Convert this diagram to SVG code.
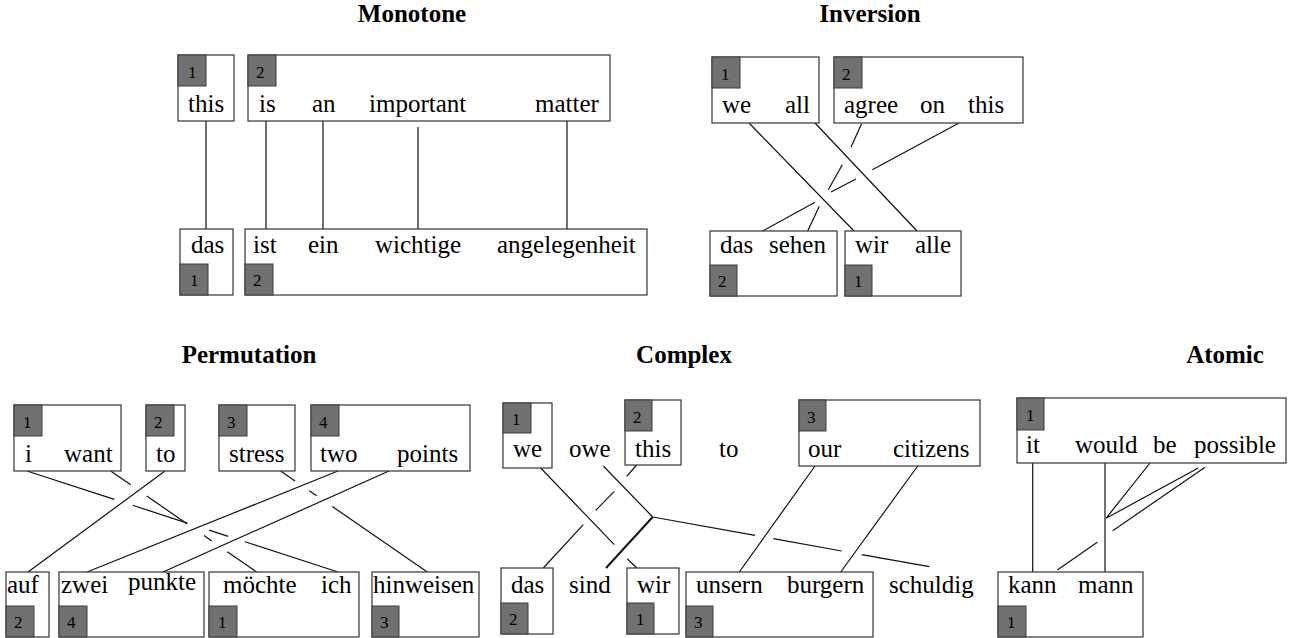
<svg xmlns="http://www.w3.org/2000/svg" width="1294" height="638" viewBox="0 0 1294 638">
<style>
.bg{fill:#fff}
.box{fill:#fff;stroke:#333;stroke-width:1.2}
.badge{fill:#717171;stroke:#3c3c3c;stroke-width:1}
text{font-family:"Liberation Serif","Times New Roman",serif;fill:#000}
.w{font-size:25px}
.n{font-size:17px}
.t{font-size:25px;font-weight:bold;text-anchor:middle}
.ln{stroke:#111;stroke-width:1.2;fill:none}
.thick{stroke-width:2}
</style>
<rect class="bg" x="0" y="0" width="1294" height="638"/>

<g id="titles">
<text class="t" x="412" y="22">Monotone</text>
<text class="t" x="870" y="22">Inversion</text>
<text class="t" x="249" y="363">Permutation</text>
<text class="t" x="684" y="363">Complex</text>
<text class="t" x="1225" y="363">Atomic</text>
</g>

<g id="connectors">
<!-- Monotone -->
<path class="ln" d="M206,121 V229 M266,121 V229 M323,121 V229 M418,127 V229 M567,121 V229"/>
<!-- Inversion -->
<path class="ln" d="M749,123 L854,231 M815,123 L917,231"/>
<path class="ln" d="M861.5,124 L851,147 M842.3,164.7 L828.3,189.7 M819.3,206.3 L807.7,231"/>
<path class="ln" d="M959,123 L872.3,169.7 M856,179 L831,192 M815,202.3 L761.7,231.5"/>
<!-- Permutation -->
<path class="ln" d="M165,471 L28,572"/>
<path class="ln" d="M338,471 L87,572"/>
<path class="ln" d="M389,471 L163,572"/>
<path class="ln" d="M27,471 L114.3,499.4 M132.7,505.3 L187.3,523.1 M209,530.1 L228.3,536.4 M245,541.8 L338,572"/>
<path class="ln" d="M110.7,471 L130.7,484.8 M146.7,495.9 L187.3,524 M204,535.6 L211.7,540.9 M227.3,551.7 L256.7,572"/>
<path class="ln" d="M280.7,471 L295,480.9 M309.3,490.7 L316.7,495.8 M332.3,506.5 L427.3,572"/>
<!-- Complex -->
<path class="ln" d="M540.7,468 L614.3,544.7 M627.3,558.7 L636.7,568"/>
<path class="ln" d="M603.3,466 L652.7,517"/>
<path class="ln thick" d="M652.7,517 L606,568"/>
<path class="ln" d="M652.7,517 L755,535.4 M773.3,538.7 L841.7,551 M861.7,554.6 L929.3,566.7"/>
<path class="ln" d="M636.7,465 L626.7,476.3 M614.3,491.3 L595.7,510.3 M583.3,524.7 L543.3,568"/>
<path class="ln" d="M815,466 L739.3,572"/>
<path class="ln" d="M917.7,466 L840.7,572"/>
<!-- Atomic -->
<path class="ln" d="M1032.7,463 V572 M1105,463 V572"/>
<path class="ln" d="M1150,463 L1106,518.3 M1198.3,468 L1106,518.3"/>
<path class="ln" d="M1205,467.3 L1112.7,530.7 M1097.3,542.3 L1057.3,570"/>
</g>

<!-- Monotone nodes -->
<g id="mono-src-1"><rect class="box" x="178" y="55" width="56" height="66"/><rect class="badge" x="178" y="55" width="28" height="31"/><text class="n" x="188" y="78">1</text><text class="w" x="188" y="112">this</text></g>
<g id="mono-src-2"><rect class="box" x="248" y="55" width="362" height="66"/><rect class="badge" x="248" y="55" width="28" height="31"/><text class="n" x="256" y="78">2</text>
<text class="w" x="259" y="112">is</text><text class="w" x="312" y="112">an</text><text class="w" x="369" y="112">important</text><text class="w" x="535" y="112">matter</text></g>
<g id="mono-tgt-1"><rect class="box" x="180" y="229" width="53" height="66"/><rect class="badge" x="180" y="264" width="28" height="31"/><text class="n" x="190" y="286">1</text><text class="w" x="191" y="253">das</text></g>
<g id="mono-tgt-2"><rect class="box" x="245" y="229" width="402" height="66"/><rect class="badge" x="245" y="264" width="28" height="31"/><text class="n" x="253" y="286">2</text>
<text class="w" x="253" y="253">ist</text><text class="w" x="308" y="253">ein</text><text class="w" x="375" y="253">wichtige</text><text class="w" x="497" y="253">angelegenheit</text></g>

<!-- Inversion nodes -->
<g id="inv-src-1"><rect class="box" x="712" y="57" width="107" height="66"/><rect class="badge" x="712" y="57" width="28" height="31"/><text class="n" x="721" y="80">1</text>
<text class="w" x="722" y="113">we</text><text class="w" x="785" y="113">all</text></g>
<g id="inv-src-2"><rect class="box" x="834" y="57" width="189" height="66"/><rect class="badge" x="834" y="57" width="28" height="31"/><text class="n" x="842" y="80">2</text>
<text class="w" x="844" y="113">agree</text><text class="w" x="920" y="113">on</text><text class="w" x="968" y="113">this</text></g>
<g id="inv-tgt-2"><rect class="box" x="710" y="231" width="127" height="65"/><rect class="badge" x="710" y="265" width="27" height="31"/><text class="n" x="718" y="287">2</text>
<text class="w" x="720" y="253">das</text><text class="w" x="769" y="253">sehen</text></g>
<g id="inv-tgt-1"><rect class="box" x="845" y="231" width="116" height="65"/><rect class="badge" x="845" y="265" width="27" height="31"/><text class="n" x="854" y="287">1</text>
<text class="w" x="855" y="253">wir</text><text class="w" x="915" y="253">alle</text></g>

<!-- Permutation nodes -->
<g id="perm-src-1"><rect class="box" x="14" y="405" width="107" height="66"/><rect class="badge" x="14" y="405" width="28" height="31"/><text class="n" x="23" y="428">1</text>
<text class="w" x="25" y="462">i</text><text class="w" x="64" y="462">want</text></g>
<g id="perm-src-2"><rect class="box" x="146" y="405" width="39" height="66"/><rect class="badge" x="146" y="405" width="28" height="31"/><text class="n" x="154" y="428">2</text><text class="w" x="156" y="462">to</text></g>
<g id="perm-src-3"><rect class="box" x="219" y="405" width="76" height="66"/><rect class="badge" x="219" y="405" width="28" height="31"/><text class="n" x="227" y="428">3</text><text class="w" x="229" y="462">stress</text></g>
<g id="perm-src-4"><rect class="box" x="311" y="405" width="159" height="66"/><rect class="badge" x="311" y="405" width="28" height="31"/><text class="n" x="319" y="428">4</text>
<text class="w" x="320" y="462">two</text><text class="w" x="397" y="462">points</text></g>
<g id="perm-tgt-2"><rect class="box" x="6" y="572" width="43" height="65"/><rect class="badge" x="6" y="606" width="28" height="31"/><text class="n" x="14" y="628">2</text><text class="w" x="7" y="593">auf</text></g>
<g id="perm-tgt-4"><rect class="box" x="59" y="572" width="145" height="65"/><rect class="badge" x="59" y="606" width="28" height="31"/><text class="n" x="67" y="628">4</text>
<text class="w" x="61" y="593">zwei</text><text class="w" x="128" y="590">punkte</text></g>
<g id="perm-tgt-1"><rect class="box" x="209" y="572" width="150" height="65"/><rect class="badge" x="209" y="606" width="28" height="31"/><text class="n" x="218" y="628">1</text>
<text class="w" x="223" y="593">möchte</text><text class="w" x="321" y="593">ich</text></g>
<g id="perm-tgt-3"><rect class="box" x="372" y="572" width="107" height="65"/><rect class="badge" x="372" y="606" width="27" height="31"/><text class="n" x="380" y="628">3</text><text class="w" x="373" y="593">hinweisen</text></g>

<!-- Complex nodes -->
<g id="cx-src-1"><rect class="box" x="503" y="403" width="49" height="65"/><rect class="badge" x="503" y="403" width="28" height="30"/><text class="n" x="512" y="425">1</text><text class="w" x="513" y="457">we</text></g>
<g id="cx-owe"><text class="w" x="569" y="457">owe</text></g>
<g id="cx-src-2"><rect class="box" x="625" y="400" width="56" height="65"/><rect class="badge" x="625" y="400" width="27" height="31"/><text class="n" x="633" y="423">2</text><text class="w" x="635" y="457">this</text></g>
<g id="cx-to"><text class="w" x="719" y="457">to</text></g>
<g id="cx-src-3"><rect class="box" x="799" y="400" width="181" height="66"/><rect class="badge" x="799" y="400" width="27" height="31"/><text class="n" x="807" y="423">3</text>
<text class="w" x="808" y="457">our</text><text class="w" x="893" y="457">citizens</text></g>
<g id="cx-tgt-2"><rect class="box" x="501" y="568" width="52" height="66"/><rect class="badge" x="501" y="603" width="27" height="31"/><text class="n" x="509" y="625">2</text><text class="w" x="511" y="593">das</text></g>
<g id="cx-sind"><text class="w" x="569" y="593">sind</text></g>
<g id="cx-tgt-1"><rect class="box" x="627" y="568" width="52" height="66"/><rect class="badge" x="627" y="603" width="27" height="31"/><text class="n" x="636" y="625">1</text><text class="w" x="637" y="593">wir</text></g>
<g id="cx-tgt-3"><rect class="box" x="686" y="572" width="187" height="65"/><rect class="badge" x="686" y="606" width="27" height="31"/><text class="n" x="694" y="628">3</text>
<text class="w" x="696" y="593">unsern</text><text class="w" x="787" y="593">burgern</text></g>
<g id="cx-schuldig"><text class="w" x="889" y="593">schuldig</text></g>

<!-- Atomic nodes -->
<g id="at-src-1"><rect class="box" x="1017" y="398" width="269" height="65"/><rect class="badge" x="1017" y="398" width="27" height="32"/><text class="n" x="1026" y="421">1</text>
<text class="w" x="1026" y="453">it</text><text class="w" x="1075" y="453">would</text><text class="w" x="1153" y="453">be</text><text class="w" x="1194" y="453">possible</text></g>
<g id="at-tgt-1"><rect class="box" x="998" y="572" width="145" height="65"/><rect class="badge" x="998" y="606" width="28" height="31"/><text class="n" x="1007" y="628">1</text>
<text class="w" x="1008" y="593">kann</text><text class="w" x="1078" y="593">mann</text></g>
</svg>
